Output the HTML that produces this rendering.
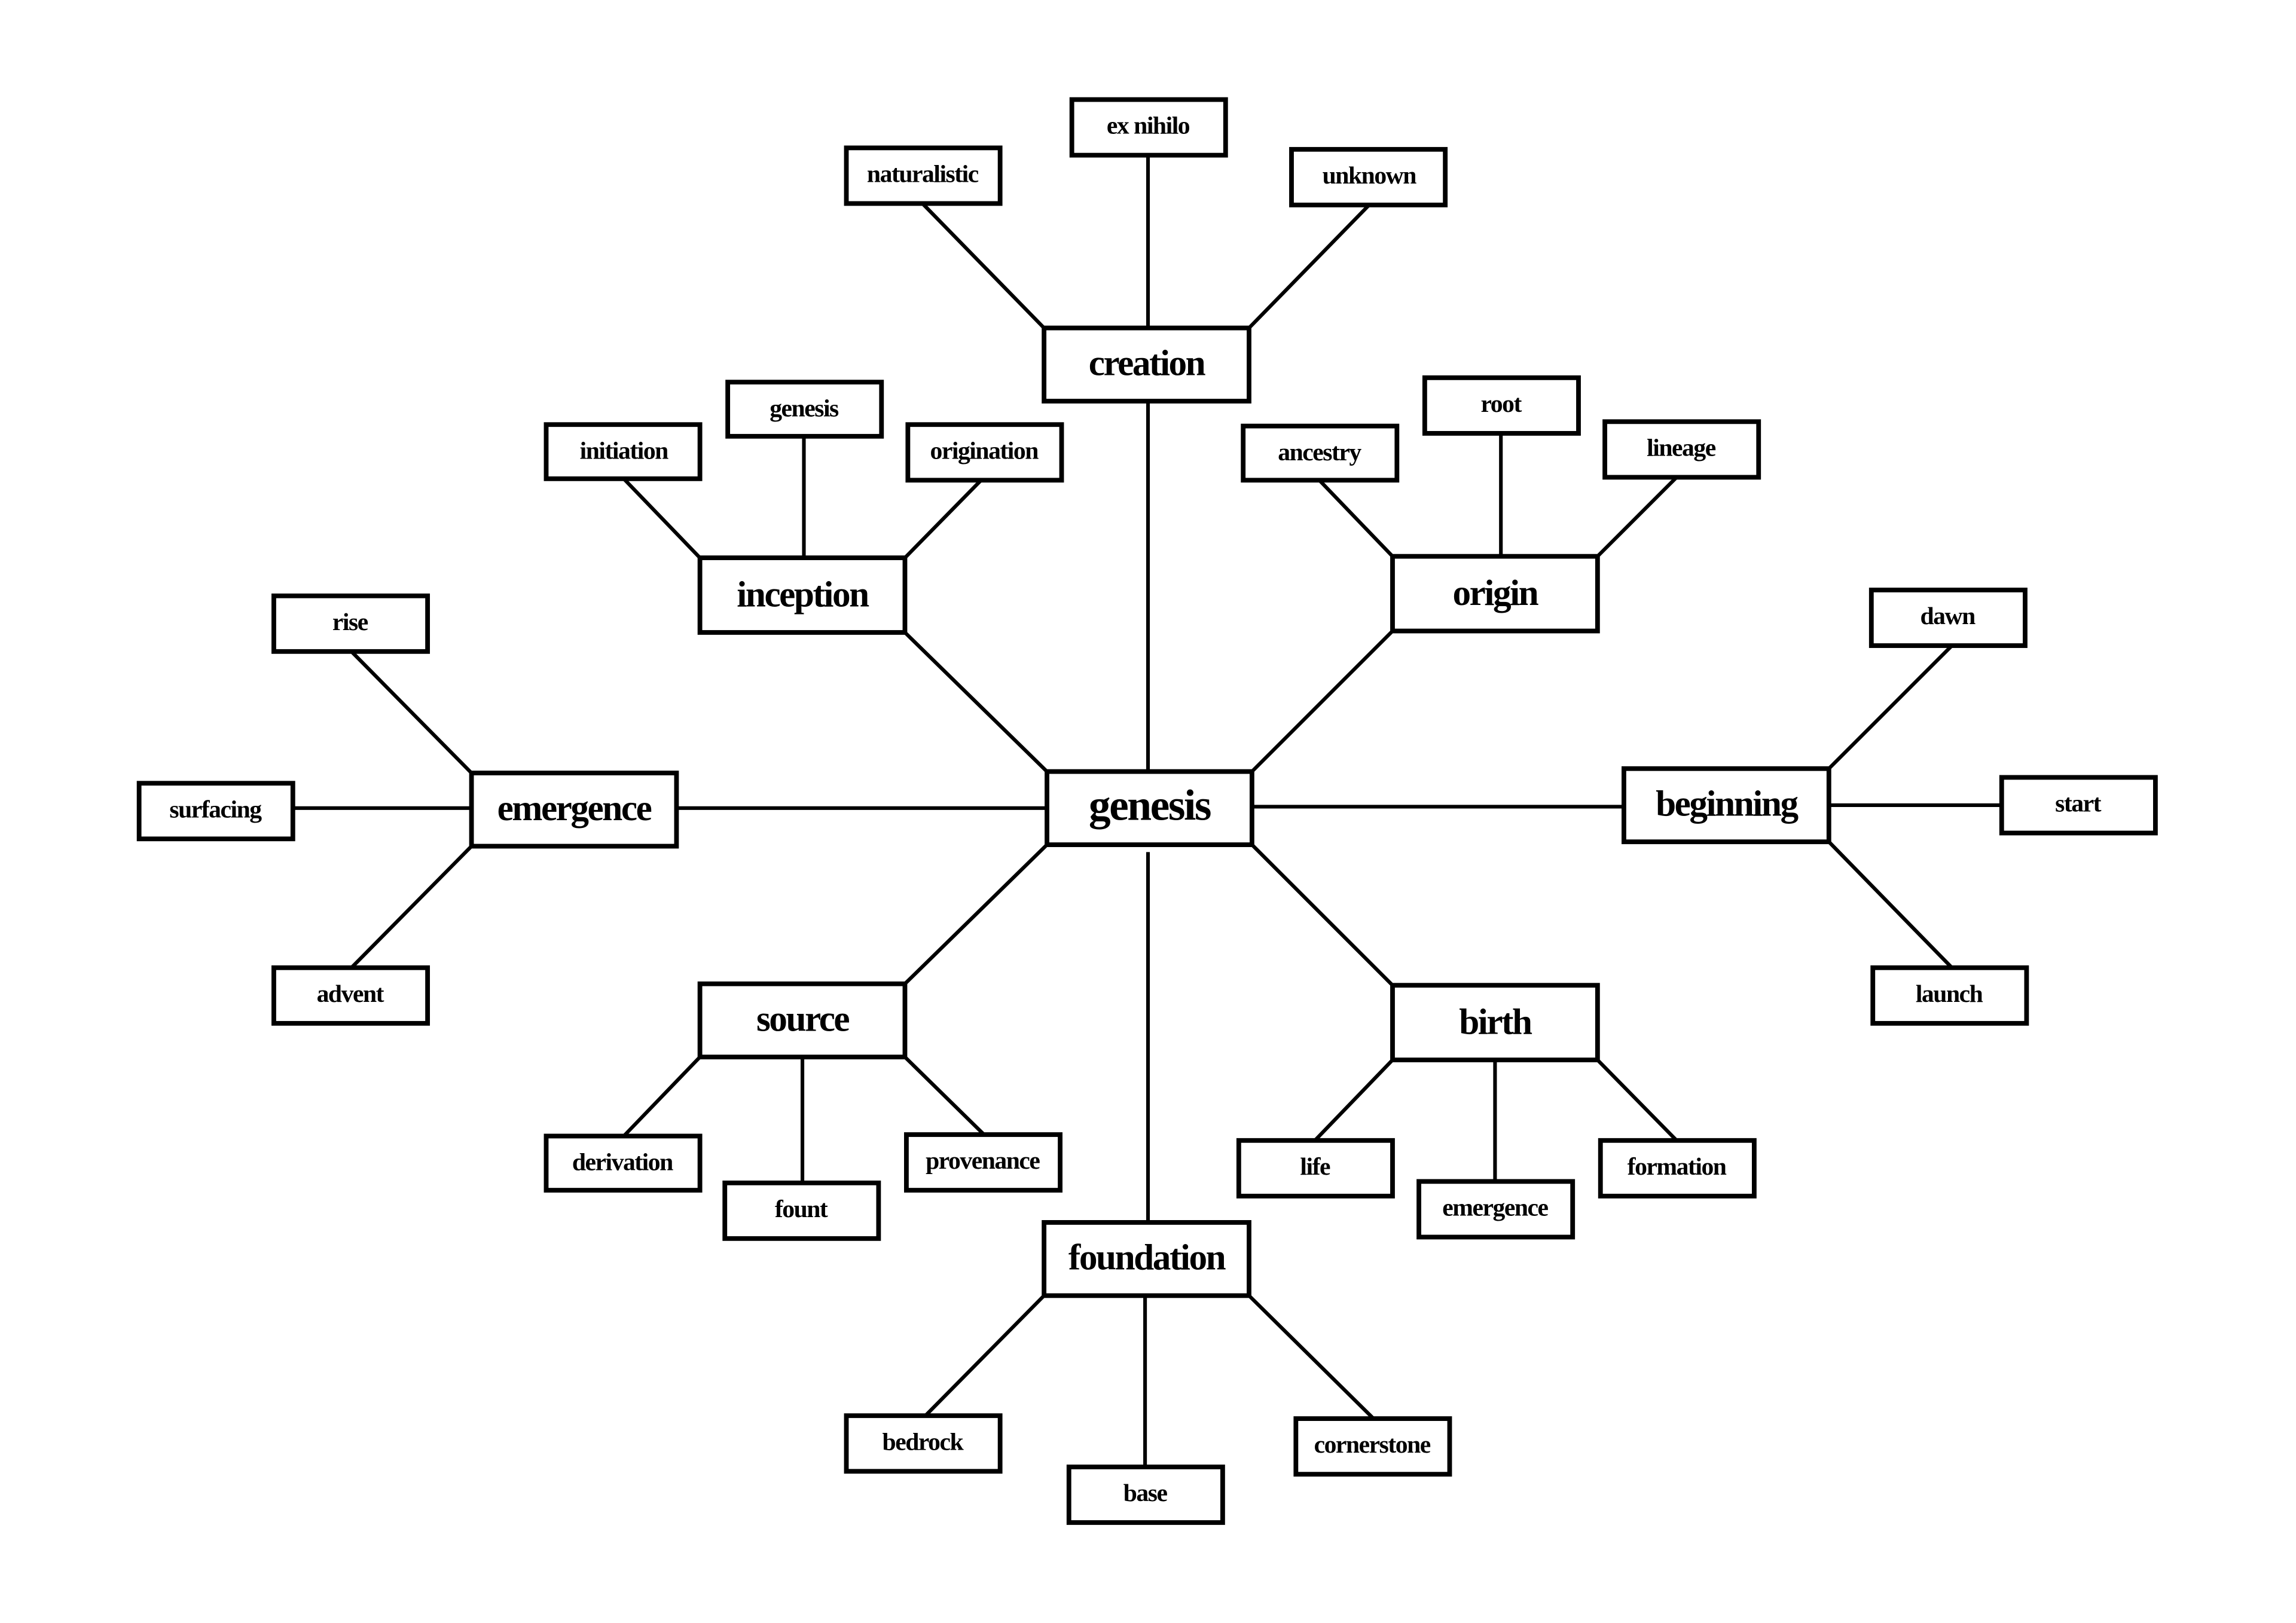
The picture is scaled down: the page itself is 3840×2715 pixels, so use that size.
<!DOCTYPE html>
<html><head><meta charset="utf-8"><style>
html,body{margin:0;padding:0;background:#fff;}
svg{display:block;}
text{font-family:"Liberation Serif",serif;font-weight:bold;text-anchor:middle;dominant-baseline:central;fill:#000;}
.m{font-size:25px;letter-spacing:-1px;}
.l{font-size:17px;letter-spacing:-0.6px;}
.g{font-size:30px;letter-spacing:-1px;}
rect{fill:#fff;stroke:#000;stroke-width:3.2;}
line{stroke:#000;stroke-width:2.5;}
</style></head><body>
<svg width="3840" height="2715" viewBox="0 0 1568 1108.6" xmlns="http://www.w3.org/2000/svg">
<g>
<line x1="784" y1="274" x2="784" y2="527"/>
<line x1="715" y1="527" x2="618" y2="432"/>
<line x1="855" y1="527" x2="951" y2="431"/>
<line x1="715" y1="552" x2="462" y2="552"/>
<line x1="855" y1="551" x2="1109" y2="551"/>
<line x1="715" y1="577" x2="618" y2="672"/>
<line x1="855" y1="577" x2="951" y2="673"/>
<line x1="784" y1="582" x2="784" y2="835"/>

<line x1="713" y1="224" x2="630" y2="139"/>
<line x1="784" y1="224" x2="784" y2="106"/>
<line x1="853" y1="224" x2="935" y2="140"/>
<line x1="478" y1="381" x2="426" y2="327"/>
<line x1="549" y1="381" x2="549" y2="298"/>
<line x1="618" y1="381" x2="670" y2="328"/>
<line x1="951" y1="380" x2="901" y2="328"/>
<line x1="1025" y1="380" x2="1025" y2="296"/>
<line x1="1091" y1="380" x2="1145" y2="326"/>
<line x1="322" y1="528" x2="240" y2="445"/>
<line x1="322" y1="552" x2="200" y2="552"/>
<line x1="322" y1="578" x2="240" y2="661"/>
<line x1="1249" y1="525" x2="1333" y2="441"/>
<line x1="1249" y1="550" x2="1367" y2="550"/>
<line x1="1249" y1="575" x2="1333" y2="661"/>
<line x1="478" y1="722" x2="426" y2="776"/>
<line x1="548" y1="722" x2="548" y2="808"/>
<line x1="618" y1="722" x2="672" y2="775"/>
<line x1="951" y1="724" x2="898" y2="779"/>
<line x1="1021" y1="724" x2="1021" y2="807"/>
<line x1="1091" y1="724" x2="1145" y2="779"/>
<line x1="713" y1="885" x2="632" y2="967"/>
<line x1="782" y1="885" x2="782" y2="1002"/>
<line x1="853" y1="885" x2="938" y2="969"/>
</g>

<rect x="715" y="527" width="140" height="50"/><text class="g" x="785" y="550">genesis</text>
<rect x="713" y="224" width="140" height="50"/><text class="m" x="783" y="248">creation</text>
<rect x="478" y="381" width="140" height="51"/><text class="m" x="548" y="406">inception</text>
<rect x="951" y="380" width="140" height="51"/><text class="m" x="1021" y="405">origin</text>
<rect x="322" y="528" width="140" height="50"/><text class="m" x="392" y="552">emergence</text>
<rect x="1109" y="525" width="140" height="50"/><text class="m" x="1179" y="549">beginning</text>
<rect x="478" y="672" width="140" height="50"/><text class="m" x="548" y="696">source</text>
<rect x="951" y="673" width="140" height="51"/><text class="m" x="1021" y="698">birth</text>
<rect x="713" y="835" width="140" height="50"/><text class="m" x="783" y="859">foundation</text>

<rect x="578" y="101" width="105" height="38"/><text class="l" x="630" y="119">naturalistic</text>
<rect x="732" y="68" width="105" height="38"/><text class="l" x="784" y="86">ex nihilo</text>
<rect x="882" y="102" width="105" height="38"/><text class="l" x="935" y="120">unknown</text>
<rect x="373" y="290" width="105" height="37"/><text class="l" x="426" y="308">initiation</text>
<rect x="497" y="261" width="105" height="37"/><text class="l" x="549" y="279">genesis</text>
<rect x="620" y="290" width="105" height="38"/><text class="l" x="672" y="308">origination</text>
<rect x="849" y="291" width="105" height="37"/><text class="l" x="901" y="309">ancestry</text>
<rect x="973" y="258" width="105" height="38"/><text class="l" x="1025" y="276">root</text>
<rect x="1096" y="288" width="105" height="38"/><text class="l" x="1148" y="306">lineage</text>
<rect x="187" y="407" width="105" height="38"/><text class="l" x="239" y="425">rise</text>
<rect x="95" y="535" width="105" height="38"/><text class="l" x="147" y="553">surfacing</text>
<rect x="187" y="661" width="105" height="38"/><text class="l" x="239" y="679">advent</text>
<rect x="1278" y="403" width="105" height="38"/><text class="l" x="1330" y="421">dawn</text>
<rect x="1367" y="531" width="105" height="38"/><text class="l" x="1419" y="549">start</text>
<rect x="1279" y="661" width="105" height="38"/><text class="l" x="1331" y="679">launch</text>
<rect x="373" y="776" width="105" height="37"/><text class="l" x="425" y="794">derivation</text>
<rect x="495" y="808" width="105" height="38"/><text class="l" x="547" y="826">fount</text>
<rect x="619" y="775" width="105" height="38"/><text class="l" x="671" y="793">provenance</text>
<rect x="846" y="779" width="105" height="38"/><text class="l" x="898" y="797">life</text>
<rect x="969" y="807" width="105" height="38"/><text class="l" x="1021" y="825">emergence</text>
<rect x="1093" y="779" width="105" height="38"/><text class="l" x="1145" y="797">formation</text>
<rect x="578" y="967" width="105" height="38"/><text class="l" x="630" y="985">bedrock</text>
<rect x="730" y="1002" width="105" height="38"/><text class="l" x="782" y="1020">base</text>
<rect x="885" y="969" width="105" height="38"/><text class="l" x="937" y="987">cornerstone</text>
</svg>
</body></html>
